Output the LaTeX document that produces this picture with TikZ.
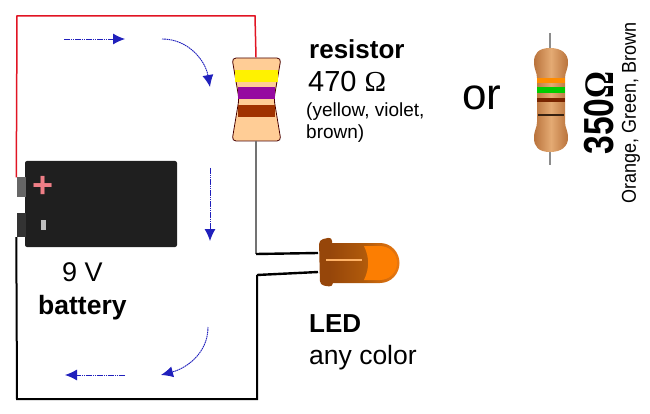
\documentclass[tikz,border=0pt]{standalone}
\usepackage{fontspec}
\setmainfont{Liberation Sans}
\newfontfamily\omegafont{Liberation Serif}
\usetikzlibrary{arrows.meta}
\definecolor{flow}{RGB}{40,40,235}
\definecolor{skin}{RGB}{255,205,150}
\definecolor{bandviolet}{RGB}{150,10,160}
\definecolor{bandbrown}{RGB}{160,50,0}
\definecolor{wirered}{RGB}{225,20,35}
\definecolor{ledorange}{RGB}{235,120,15}
\definecolor{leddark}{RGB}{150,70,10}
\definecolor{tanedge}{RGB}{185,115,60}
\definecolor{tanmid}{RGB}{228,170,115}
\tikzset{
  label/.style={anchor=base west, inner sep=0pt, text=black},
  flowarrow/.style={dash pattern=on 1.6pt off 0.6pt, flow!80!black, line width=0.9pt, -{Latex[length=12pt,width=11pt]}},
  wire/.style={line width=2pt, black},
  redwire/.style={line width=1.5pt, wirered},
  terminal/.style={draw=none, fill=black!60, minimum width=9pt, inner sep=0pt},
  band/.style={draw=none, inner sep=0pt},
}
\begin{document}
\begin{tikzpicture}[x=1pt, y=-1pt]
  \useasboundingbox (0,0) rectangle (650,414);

  % Corners of the loop
  \coordinate (redtl) at (17,16);
  \coordinate (redtr) at (255,16);
  \coordinate (blackbl) at (17,399);
  \coordinate (blackbr) at (257,399);
  \coordinate (ledtopin) at (256,254);
  \coordinate (ledbotin) at (257,275);

  % Battery
  \node[draw=none, fill=black!88, rounded corners=2pt, minimum width=152pt, minimum height=86pt, inner sep=0pt] (battery) at (101,204) {};
  \node[terminal, minimum height=19pt] (batplus) at (21,187) {};
  \node[terminal, minimum height=24pt, fill=black!80] (batminus) at (21,225) {};
  \node[text=wirered!55!white, font=\bfseries\fontsize{36}{36}\selectfont, inner sep=0pt] (plussign) at (43,187) {+};
  \node[fill=black!25, minimum width=5pt, minimum height=10pt, inner sep=0pt] (minussign) at (43,225) {};

  % Resistor
  \node[minimum width=49pt, minimum height=83pt, inner sep=0pt] (res) at (256,99) {};
  \draw[fill=skin, draw=black!60!red!70!black, thick, rounded corners=4pt]
    (232,58) -- (281,58) -- (274,99) -- (281,141) -- (232,141) -- (239,99) -- cycle;
  \node[band, fill=yellow, minimum width=43pt, minimum height=12pt] (bandone) at (256,76) {};
  \node[band, fill=bandviolet, minimum width=37pt, minimum height=12pt] (bandtwo) at (256,93) {};
  \node[band, fill=bandbrown, minimum width=37pt, minimum height=12pt] (bandthree) at (256,111) {};

  % Led
  \node[minimum width=81pt, minimum height=50pt, inner sep=0pt] (led) at (358,262) {};
  \coordinate (ledtopout) at (318,253);
  \coordinate (ledbotout) at (318,272);
  \fill[leddark, rounded corners=4pt] (319,240) -- (332,237) -- (333,287) -- (320,285) -- cycle;
  \shade[left color=leddark, right color=ledorange, middle color=ledorange!75!black]
    (330,243) -- (380,243) arc (-90:90:19.5 and 20) -- (330,283) -- cycle;
  \fill[orange!85!ledorange] (364,246) -- (380,246) arc (-90:90:17 and 17) -- (364,280) to[bend right=25] cycle;
  \fill[orange!60!white] (326,259) rectangle (362,261);

  % Wires
  \draw[redwire] (batplus.north west) -- (redtl) -- (redtr) -- (res.north);
  \draw[black!55, line width=1.4pt] (res.south) -- (ledtopin);
  \draw[wire, line width=2.4pt] (ledtopin) -- (ledtopout);
  \draw[wire] (batminus.south west) -- (blackbl) -- (blackbr) -- (ledbotin);
  \draw[wire, line width=2.4pt] (ledbotin) -- (ledbotout);

  % Current arrows
  \coordinate (flowa) at (64,39);
  \coordinate (flowb) at (125,39);
  \coordinate (flowc) at (162,39);
  \coordinate (flowd) at (210,87);
  \coordinate (flowe) at (210,168);
  \coordinate (flowf) at (210,241);
  \coordinate (flowg) at (208,327);
  \coordinate (flowh) at (161,375);
  \coordinate (flowi) at (125,375);
  \coordinate (flowj) at (65,375);
  \draw[flowarrow] (flowa) -- (flowb);
  \draw[flowarrow] (flowc) to[out=0, in=100] (flowd);
  \draw[flowarrow] (flowe) -- (flowf);
  \draw[flowarrow] (flowg) to[out=-90, in=15] (flowh);
  \draw[flowarrow] (flowi) -- (flowj);

  % Labels
  \node[label, font=\bfseries\fontsize{26}{26}\selectfont] (restitle) at (309,59) {resistor};
  \node[label, font=\fontsize{29}{29}\selectfont] (resvalue) at (308,92) {470 {\omegafont Ω}};
  \node[label, font=\fontsize{19}{19}\selectfont] (rescolorone) at (306,117) {(yellow, violet,};
  \node[label, font=\fontsize{19}{19}\selectfont] (rescolortwo) at (306,139) {brown)};
  \node[label, font=\fontsize{44}{44}\selectfont] (ortext) at (462,110) {or};
  \node[label, font=\fontsize{27}{27}\selectfont] (batvolt) at (62,281) {9 V};
  \node[label, font=\bfseries\fontsize{26.5}{26.5}\selectfont] (battext) at (38,314) {battery};
  \node[label, font=\bfseries\fontsize{26}{26}\selectfont] (ledtitle) at (309,332) {LED};
  \node[label, font=\fontsize{26.5}{26.5}\selectfont] (ledcolor) at (309,364) {any color};

  % Photo resistor
  \node[minimum width=36pt, minimum height=104pt, inner sep=0pt] (photores) at (550,100) {};
  \draw[black!45, line width=1.2pt] (550,33) -- (photores.north);
  \draw[black!45, line width=1.2pt] (photores.south) -- (550,165);
  \shade[left color=tanedge, right color=tanedge, middle color=tanmid]
    (550,48) .. controls (562,48) and (568,54) .. (568,62)
    .. controls (568,70) and (565,72) .. (565,78)
    -- (565,122) .. controls (565,128) and (568,130) .. (568,138)
    .. controls (568,146) and (562,152) .. (550,152)
    .. controls (538,152) and (534,146) .. (534,138)
    .. controls (534,130) and (537,128) .. (537,122)
    -- (537,78) .. controls (537,72) and (534,70) .. (534,62)
    .. controls (534,54) and (538,48) .. (550,48) -- cycle;
  \node[band, fill=orange!90!yellow, minimum width=28pt, minimum height=5pt] (photoone) at (551,81) {};
  \node[band, fill=green!80!black, minimum width=28pt, minimum height=6pt] (phototwo) at (551,90) {};
  \node[band, fill=bandbrown!75!black, minimum width=28pt, minimum height=4pt] (photothree) at (551,100) {};
  \node[band, fill=black!70!tanedge, minimum width=26pt, minimum height=2pt] (photofour) at (551,115) {};
  \node[rotate=90, font=\bfseries\fontsize{42}{42}\selectfont, inner sep=0pt] (photovalue) at (599,113) {\scalebox{0.8}[1]{350{\omegafont Ω}}};
  \node[rotate=90, font=\fontsize{20}{20}\selectfont, inner sep=0pt] (photocolor) at (631,113) {\scalebox{0.9}[1]{Orange, Green, Brown}};
\end{tikzpicture}
\end{document}
